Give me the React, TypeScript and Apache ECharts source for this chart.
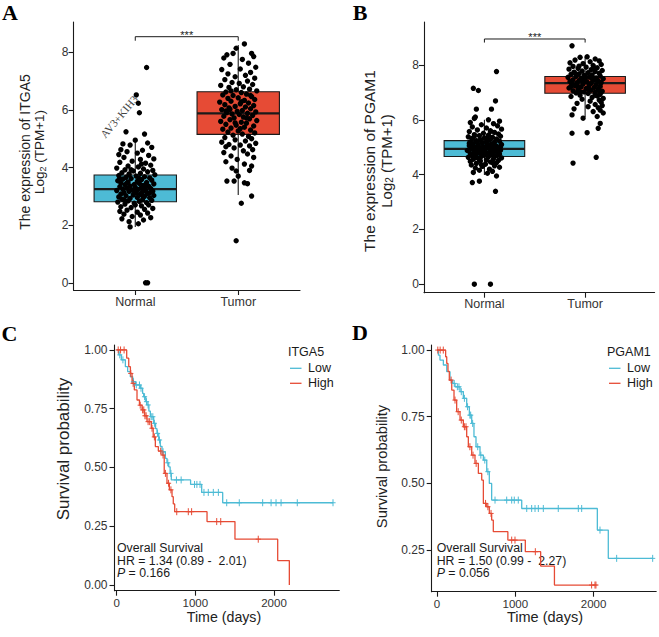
import React, { useEffect, useRef } from "react";
import * as echarts from "echarts";

// ---------- data ----------
const groups = ["Normal", "Tumor"];

// [jitter offset, log2(TPM+1)]
const itga5Normal = [
  [0.11, 7.47], [0.01, 6.52], [0.03, 6.23], [0.04, 5.9], [-0.09, 5.24], [0.09, 5.16], [0.0, 4.95], [-0.12, 4.82],
  [-0.05, 4.78], [0.12, 4.85], [0.16, 4.7], [-0.14, 4.62], [0.07, 4.6], [-0.08, 4.55], [0.02, 4.5], [-0.16, 4.45],
  [0.13, 4.42], [0.18, 4.3], [-0.11, 4.35], [0.05, 4.28], [-0.03, 4.22], [-0.15, 4.18], [0.1, 4.15], [0.15, 4.08],
  [-0.07, 4.05], [0.03, 4.02], [-0.18, 3.98], [0.08, 3.95], [-0.1, 3.92], [0.17, 3.9], [-0.02, 3.88], [0.12, 3.85],
  [-0.13, 3.82], [0.05, 3.8], [-0.06, 3.78], [0.19, 3.75], [-0.16, 3.72], [0.01, 3.7], [0.09, 3.68], [-0.09, 3.66],
  [0.14, 3.64], [-0.04, 3.62], [-0.12, 3.6], [0.06, 3.58], [0.16, 3.56], [-0.17, 3.54], [0.02, 3.52], [-0.07, 3.5],
  [0.11, 3.48], [-0.14, 3.46], [0.04, 3.45], [0.18, 3.43], [-0.01, 3.41], [-0.1, 3.4], [0.08, 3.38], [-0.05, 3.36],
  [0.13, 3.35], [-0.15, 3.33], [0.0, 3.31], [0.06, 3.3], [-0.08, 3.28], [0.15, 3.27], [-0.12, 3.25], [0.03, 3.24],
  [-0.03, 3.22], [0.1, 3.21], [-0.18, 3.2], [0.17, 3.18], [-0.06, 3.17], [0.07, 3.15], [-0.11, 3.13], [0.01, 3.12],
  [0.12, 3.1], [-0.14, 3.08], [0.05, 3.07], [-0.02, 3.05], [0.18, 3.03], [-0.09, 3.02], [0.09, 3.0], [-0.16, 2.98],
  [0.02, 2.96], [0.14, 2.95], [-0.05, 2.93], [-0.13, 2.9], [0.07, 2.88], [0.16, 2.86], [-0.07, 2.84], [0.04, 2.82],
  [-0.17, 2.8], [0.11, 2.78], [-0.01, 2.76], [-0.1, 2.73], [0.13, 2.7], [0.06, 2.67], [-0.14, 2.64], [-0.04, 2.61],
  [0.17, 2.58], [0.09, 2.55], [-0.08, 2.52], [-0.15, 2.48], [0.02, 2.45], [0.12, 2.42], [-0.11, 2.38], [0.05, 2.35],
  [-0.03, 2.3], [0.15, 2.26], [-0.13, 2.22], [0.08, 2.18], [-0.06, 2.12], [0.03, 2.05], [-0.05, 1.94], [0.1, 0.0],
  [0.12, 0.0], [-0.04, 3.92], [0.04, 3.62], [-0.08, 3.46], [0.1, 3.36], [-0.01, 3.18], [0.07, 3.02], [-0.11, 2.88],
  [0.0, 2.7], [-0.06, 3.74], [0.14, 3.12], [-0.15, 3.62], [0.06, 4.12],
];

const itga5Tumor = [
  [0.06, 8.29], [-0.02, 8.14], [-0.11, 7.91], [-0.05, 7.96], [0.13, 7.96], [0.15, 7.85], [-0.14, 7.8], [0.04, 7.75],
  [0.1, 7.62], [-0.08, 7.58], [0.17, 7.48], [-0.16, 7.4], [0.02, 7.42], [0.12, 7.3], [-0.1, 7.25], [0.07, 7.2],
  [-0.03, 7.15], [0.16, 7.1], [-0.13, 7.05], [0.09, 7.0], [-0.06, 6.95], [0.01, 6.92], [0.14, 6.88], [-0.17, 6.85],
  [0.05, 6.8], [-0.09, 6.78], [0.11, 6.72], [-0.02, 6.7], [0.18, 6.66], [-0.12, 6.62], [0.03, 6.6], [0.08, 6.55],
  [-0.15, 6.52], [-0.05, 6.5], [0.13, 6.46], [0.0, 6.42], [-0.1, 6.4], [0.16, 6.36], [0.06, 6.33], [-0.07, 6.3],
  [-0.18, 6.27], [0.1, 6.24], [0.02, 6.21], [-0.13, 6.18], [0.15, 6.15], [-0.03, 6.12], [0.07, 6.1], [-0.09, 6.07],
  [0.12, 6.04], [-0.16, 6.01], [0.04, 5.98], [-0.01, 5.95], [0.17, 5.93], [-0.11, 5.9], [0.09, 5.88], [-0.06, 5.86],
  [0.01, 5.84], [0.14, 5.81], [-0.14, 5.78], [0.05, 5.75], [-0.04, 5.72], [0.11, 5.69], [-0.08, 5.66], [0.18, 5.63],
  [-0.17, 5.6], [0.03, 5.57], [0.08, 5.54], [-0.12, 5.5], [-0.02, 5.47], [0.15, 5.44], [0.06, 5.4], [-0.07, 5.37],
  [-0.15, 5.33], [0.12, 5.3], [0.0, 5.27], [-0.1, 5.23], [0.16, 5.2], [0.04, 5.16], [-0.05, 5.12], [0.1, 5.08],
  [-0.13, 5.04], [0.13, 5.0], [-0.03, 4.96], [0.07, 4.92], [-0.16, 4.88], [0.17, 4.84], [-0.09, 4.8], [0.02, 4.78],
  [0.11, 4.75], [-0.12, 4.72], [-0.04, 4.68], [0.14, 4.62], [0.05, 4.58], [-0.14, 4.52], [0.09, 4.47], [-0.07, 4.4],
  [0.15, 4.35], [-0.01, 4.28], [-0.12, 4.2], [0.06, 4.12], [0.13, 4.05], [-0.06, 3.98], [0.11, 3.9], [-0.02, 3.88],
  [0.0, 3.7], [-0.11, 3.53], [-0.04, 3.53], [0.06, 3.47], [0.09, 3.44], [0.13, 3.01], [0.03, 2.76], [-0.02, 1.46],
  [-0.08, 6.02], [0.03, 6.28], [-0.12, 5.96], [0.08, 5.72], [-0.03, 5.55], [0.12, 6.5], [-0.07, 6.66], [0.02, 5.35],
];

const pgam1Normal = [
  [0.12, 7.76], [-0.11, 7.15], [-0.06, 7.07], [0.11, 6.69], [-0.08, 6.39], [0.07, 6.39], [-0.09, 6.1], [-0.1, 6.05],
  [0.04, 6.0], [0.15, 5.95], [-0.14, 5.9], [0.09, 5.86], [-0.03, 5.82], [0.13, 5.78], [-0.12, 5.74], [0.02, 5.7],
  [0.17, 5.66], [-0.07, 5.63], [0.06, 5.6], [-0.15, 5.57], [0.1, 5.54], [-0.01, 5.51], [0.14, 5.48], [-0.1, 5.46],
  [0.04, 5.44], [-0.05, 5.42], [0.16, 5.4], [-0.16, 5.38], [0.08, 5.36], [0.0, 5.34], [-0.12, 5.32], [0.12, 5.3],
  [-0.04, 5.28], [0.05, 5.26], [-0.08, 5.24], [0.15, 5.22], [-0.14, 5.2], [0.02, 5.19], [0.1, 5.17], [-0.02, 5.15],
  [-0.11, 5.13], [0.07, 5.12], [0.17, 5.1], [-0.06, 5.08], [0.03, 5.07], [-0.15, 5.05], [0.12, 5.04], [-0.01, 5.02],
  [0.08, 5.01], [-0.09, 4.99], [0.14, 4.98], [-0.04, 4.97], [0.05, 4.95], [-0.13, 4.94], [0.01, 4.93], [0.11, 4.92],
  [-0.07, 4.9], [0.16, 4.89], [-0.17, 4.88], [0.06, 4.86], [-0.02, 4.85], [0.09, 4.84], [-0.1, 4.82], [0.13, 4.81],
  [-0.05, 4.8], [0.03, 4.78], [-0.14, 4.77], [0.15, 4.75], [-0.08, 4.74], [0.07, 4.72], [0.0, 4.71], [-0.12, 4.69],
  [0.11, 4.68], [-0.03, 4.66], [0.04, 4.65], [-0.16, 4.63], [0.17, 4.61], [-0.06, 4.6], [0.09, 4.58], [-0.11, 4.56],
  [0.02, 4.54], [0.14, 4.52], [-0.04, 4.5], [-0.14, 4.48], [0.06, 4.46], [0.12, 4.43], [-0.08, 4.41], [0.01, 4.38],
  [-0.13, 4.35], [0.1, 4.32], [-0.02, 4.3], [0.15, 4.27], [-0.09, 4.24], [0.05, 4.2], [-0.05, 4.16], [0.08, 4.12],
  [-0.11, 4.08], [0.03, 4.05], [0.12, 3.95], [-0.12, 3.71], [-0.05, 3.76], [0.11, 3.39], [-0.1, 0.0], [0.06, 0.0],
  [-0.07, 5.18], [0.05, 5.05], [-0.12, 4.98], [0.1, 4.9], [-0.02, 4.76], [0.13, 4.7], [-0.09, 4.62], [0.03, 5.32],
  [-0.15, 5.14], [0.16, 5.02], [0.0, 4.88], [-0.05, 4.55], [0.08, 4.44], [-0.1, 5.4], [0.06, 5.58], [-0.03, 4.36],
];

const pgam1Tumor = [
  [-0.13, 8.7], [0.02, 8.3], [-0.05, 8.28], [0.1, 8.22], [-0.1, 8.18], [0.14, 8.15], [0.05, 8.12], [-0.15, 8.08],
  [-0.02, 8.05], [0.16, 8.02], [0.08, 7.98], [-0.12, 7.95], [0.01, 7.92], [0.12, 7.9], [-0.07, 7.88], [-0.16, 7.85],
  [0.06, 7.83], [0.17, 7.8], [-0.03, 7.78], [0.1, 7.76], [-0.11, 7.74], [0.03, 7.72], [0.14, 7.7], [-0.06, 7.68],
  [-0.14, 7.66], [0.07, 7.64], [-0.01, 7.62], [0.15, 7.6], [-0.09, 7.58], [0.04, 7.56], [-0.17, 7.55], [0.11, 7.53],
  [-0.04, 7.51], [0.18, 7.5], [0.0, 7.48], [-0.12, 7.46], [0.08, 7.45], [-0.06, 7.43], [0.13, 7.41], [-0.15, 7.4],
  [0.02, 7.38], [0.16, 7.36], [-0.08, 7.35], [0.06, 7.33], [-0.02, 7.31], [-0.13, 7.3], [0.11, 7.28], [0.04, 7.26],
  [-0.1, 7.24], [0.15, 7.22], [-0.04, 7.2], [0.09, 7.18], [-0.16, 7.16], [0.01, 7.14], [0.13, 7.12], [-0.07, 7.1],
  [0.06, 7.08], [-0.12, 7.06], [0.17, 7.04], [-0.01, 7.02], [0.1, 7.0], [-0.09, 6.98], [0.03, 6.96], [0.15, 6.93],
  [-0.05, 6.9], [0.12, 6.87], [-0.14, 6.85], [0.07, 6.82], [0.18, 6.78], [-0.03, 6.75], [0.14, 6.72], [0.05, 6.68],
  [0.16, 6.64], [-0.08, 6.6], [0.1, 6.56], [0.17, 6.52], [0.03, 6.48], [0.13, 6.44], [-0.11, 6.4], [0.15, 6.35],
  [0.08, 6.3], [0.18, 6.25], [-0.13, 6.18], [0.12, 6.12], [-0.02, 6.06], [0.15, 5.87], [0.13, 5.69], [0.02, 5.53],
  [-0.13, 5.51], [0.11, 4.63], [-0.12, 4.42], [-0.06, 7.96], [0.09, 7.86], [-0.1, 7.7], [0.0, 7.6], [0.12, 7.44],
  [-0.08, 7.26], [0.04, 7.12], [-0.14, 7.22], [0.07, 7.5], [-0.02, 7.4], [0.14, 7.06], [-0.05, 7.02], [0.1, 6.9],
];

// [lower whisker, Q1, median, Q3, upper whisker]
const itga5Box = [
  [1.94, 2.81, 3.25, 3.74, 4.95],
  [3.05, 5.15, 5.88, 6.63, 8.25],
];
const pgam1Box = [
  [3.99, 4.66, 4.94, 5.24, 6.0],
  [6.1, 6.97, 7.34, 7.58, 8.3],
];

// significance bracket: [from group, to group, height, tip]
const itga5Sig = [[1, 2, 8.54, 8.4]];
const pgam1Sig = [[1, 2, 8.95, 8.82]];

const exprTicks = [0, 2, 4, 6, 8];
const survTicksC = [0, 0.25, 0.5, 0.75, 1];
const survTicksD = [0.25, 0.5, 0.75, 1];
const timeTicks = [0, 1000, 2000];

// Kaplan-Meier steps: [time (days), survival after event]
const itga5LowSteps = [
  [0, 1], [27, 0.979], [60, 0.958], [111, 0.929], [140, 0.908], [174, 0.886], [205, 0.865], [238, 0.851],
  [301, 0.837], [330, 0.815], [344, 0.801], [370, 0.78], [386, 0.766], [410, 0.74], [429, 0.716], [471, 0.688],
  [495, 0.665], [513, 0.645], [535, 0.617], [555, 0.59], [577, 0.567], [619, 0.539], [640, 0.52], [662, 0.503],
  [680, 0.475], [695, 0.447], [940, 0.428], [1081, 0.394], [1348, 0.35],
];
const itga5LowCensor = [
  40, 80, 215, 250, 290, 310, 355, 380, 400, 440, 460, 480, 520, 545, 590, 650, 690, 760, 820, 990, 1020, 1060,
  1110, 1165, 1229, 1293, 1399, 1559, 1856, 1963, 2026, 2090, 2296, 2750,
];
const itga5HighSteps = [
  [0, 1], [128, 0.965], [154, 0.929], [175, 0.9], [196, 0.858], [225, 0.83], [259, 0.787], [290, 0.765],
  [323, 0.745], [355, 0.72], [386, 0.695], [441, 0.667], [465, 0.63], [492, 0.589], [530, 0.57], [577, 0.553],
  [605, 0.475], [640, 0.433], [670, 0.405], [704, 0.376], [720, 0.345], [738, 0.312], [1149, 0.27], [1504, 0.195],
  [2047, 0.104], [2195, 0],
];
const itga5HighCensor = [
  20, 50, 95, 180, 210, 300, 330, 345, 360, 375, 400, 420, 450, 480, 560, 590, 620, 660, 690, 764, 911, 953, 1272,
  1323, 1800,
];

const pgam1LowSteps = [
  [0, 1], [17, 0.981], [38, 0.9625], [81, 0.944], [124, 0.919], [166, 0.8875], [200, 0.875], [230, 0.8625],
  [294, 0.844], [336, 0.819], [379, 0.7875], [413, 0.756], [443, 0.725], [472, 0.675], [498, 0.6375], [549, 0.606],
  [592, 0.5875], [635, 0.544], [668, 0.5], [698, 0.4375], [1082, 0.406], [2048, 0.325], [2188, 0.219],
];
const pgam1LowCensor = [
  220, 260, 280, 310, 350, 390, 420, 430, 455, 520, 560, 610, 650, 741, 890, 954, 987, 1038, 1146, 1209, 1252,
  1294, 1358, 1549, 1805, 1848, 2082, 2295, 2755,
];
const pgam1HighSteps = [
  [0, 1], [110, 0.975], [124, 0.95], [140, 0.92], [157, 0.8875], [188, 0.85], [217, 0.8125], [251, 0.769],
  [294, 0.7375], [336, 0.7125], [379, 0.675], [400, 0.6375], [443, 0.606], [485, 0.575], [528, 0.5375],
  [571, 0.5125], [592, 0.425], [635, 0.4125], [668, 0.3875], [698, 0.3625], [719, 0.319], [905, 0.2875],
  [1128, 0.244], [1324, 0.19], [1500, 0.119],
];
const pgam1HighCensor = [
  10, 40, 80, 180, 230, 270, 310, 350, 370, 420, 460, 500, 620, 650, 690, 954, 996, 1256, 1975, 2018, 2030,
];

// ---------- styling ----------
const SANS = "'Liberation Sans', Arial, Helvetica, sans-serif";
const SERIF = "'Liberation Serif', 'Times New Roman', serif";
const RED = "#E64B35";
const BLUE = "#4DBBD5";
const INK = "#1a1a1a";
const LABEL = "#333333";
const axisLine = { show: true, onZero: false, lineStyle: { color: INK, width: 1.1 } };

// ---------- helpers ----------
function survAt(steps: number[][], t: number) {
  let s = steps[0][1];
  for (const [tt, ss] of steps) {
    if (tt <= t) s = ss;
    else break;
  }
  return s;
}

function kmLine(steps: number[][], censor: number[]) {
  const last = steps[steps.length - 1];
  const end = Math.max(last[0], ...censor);
  return end > last[0] ? [...steps, [end, last[1]]] : steps;
}

function kmCensor(steps: number[][], censor: number[]) {
  return censor.map((t) => [t, survAt(steps, t)]);
}

function jitter(points: number[][], group: number) {
  return points.map(([j, v]) => [group + j, v]);
}

function boxRender(_params: any, api: any) {
  const g = api.value(0);
  const [lo, q1, med, q3, hi] = [1, 2, 3, 4, 5].map((i) => api.value(i));
  const hw = 0.4;
  const tl = api.coord([g - hw, q3]);
  const br = api.coord([g + hw, q1]);
  const mL = api.coord([g - hw, med]);
  const mR = api.coord([g + hw, med]);
  const top = api.coord([g, hi]);
  const bot = api.coord([g, lo]);
  const st = { stroke: INK, lineWidth: 1.1 };
  return {
    type: "group",
    children: [
      { type: "line", shape: { x1: top[0], y1: top[1], x2: top[0], y2: bot[1] }, style: st },
      {
        type: "rect",
        shape: { x: tl[0], y: tl[1], width: br[0] - tl[0], height: br[1] - tl[1] },
        style: { fill: g === 1 ? BLUE : RED, stroke: INK, lineWidth: 1.1 },
      },
      { type: "line", shape: { x1: mL[0], y1: mL[1], x2: mR[0], y2: mR[1] }, style: { stroke: INK, lineWidth: 2.2 } },
    ],
  };
}

function sigRender(_params: any, api: any) {
  const a = api.coord([api.value(0), api.value(3)]);
  const b = api.coord([api.value(0), api.value(2)]);
  const c = api.coord([api.value(1), api.value(2)]);
  const d = api.coord([api.value(1), api.value(3)]);
  return {
    type: "group",
    children: [
      { type: "polyline", shape: { points: [a, b, c, d] }, style: { stroke: INK, fill: "none", lineWidth: 1 } },
      {
        type: "text",
        x: (b[0] + c[0]) / 2,
        y: b[1] + 4,
        style: { text: "***", fontSize: 11, fontFamily: SANS, fill: INK, align: "center", verticalAlign: "bottom" },
      },
    ],
  };
}

function censorRender(color: string) {
  return (_params: any, api: any) => {
    const p = api.coord([api.value(0), api.value(1)]);
    const st = { stroke: color, lineWidth: 1 };
    return {
      type: "group",
      children: [
        { type: "line", shape: { x1: p[0], y1: p[1] - 3.5, x2: p[0], y2: p[1] + 3.5 }, style: st },
        { type: "line", shape: { x1: p[0] - 2.6, y1: p[1], x2: p[0] + 2.6, y2: p[1] }, style: st },
      ],
    };
  };
}

function exprAxes(grid: number, xmax: number, ymin: number, ymax: number) {
  return {
    x: {
      gridIndex: grid,
      type: "value",
      min: 0.4,
      max: xmax,
      axisLine,
      axisTick: { show: true, length: 5, customValues: [1, 2], lineStyle: { color: INK, width: 1.1 } },
      axisLabel: {
        customValues: [1, 2],
        formatter: (v: number) => groups[Math.round(v) - 1] ?? "",
        color: LABEL,
        fontSize: 12.5,
        fontFamily: SANS,
        margin: 5,
      },
      splitLine: { show: false },
    },
    y: {
      gridIndex: grid,
      type: "value",
      min: ymin,
      max: ymax,
      axisLine,
      axisTick: { show: true, length: 5, customValues: exprTicks, lineStyle: { color: INK, width: 1.1 } },
      axisLabel: { customValues: exprTicks, color: LABEL, fontSize: 12, fontFamily: SANS, margin: 5 },
      splitLine: { show: false },
    },
  };
}

function survAxes(grid: number, xmin: number, xmax: number, ymin: number, ymax: number, yticks: number[]) {
  return {
    x: {
      gridIndex: grid,
      type: "value",
      min: xmin,
      max: xmax,
      axisLine,
      axisTick: { show: true, length: 5, customValues: timeTicks, lineStyle: { color: INK, width: 1.1 } },
      axisLabel: {
        customValues: timeTicks,
        formatter: (v: number) => String(Math.round(v)),
        color: LABEL,
        fontSize: 11.5,
        fontFamily: SANS,
        margin: 6,
      },
      splitLine: { show: false },
    },
    y: {
      gridIndex: grid,
      type: "value",
      min: ymin,
      max: ymax,
      axisLine,
      axisTick: { show: true, length: 5, customValues: yticks, lineStyle: { color: INK, width: 1.1 } },
      axisLabel: {
        customValues: yticks,
        formatter: (v: number) => v.toFixed(2),
        color: LABEL,
        fontSize: 12,
        fontFamily: SANS,
        margin: 7,
      },
      splitLine: { show: false },
    },
  };
}

function text(x: number, y: number, str: string, size: number, extra: any = {}) {
  return {
    type: "text",
    x,
    y,
    rotation: extra.rotation ?? 0,
    style: {
      text: str,
      fontSize: size,
      fontFamily: extra.fontFamily ?? SANS,
      fontWeight: extra.fontWeight ?? "normal",
      fill: extra.fill ?? INK,
      align: extra.align ?? "left",
      verticalAlign: "middle",
      lineHeight: extra.lineHeight,
      rich: extra.rich,
    },
  };
}

function exprTitle(x: number, y: number, gene: string, size: number) {
  return text(x, y, `The expression of ${gene}\n{a|Log}{s|2}{a| (TPM+1)}`, size, {
    rotation: Math.PI / 2,
    align: "center",
    lineHeight: size + 1,
    fill: "#222",
    rich: {
      a: { fontSize: size - 0.5, fontFamily: SANS, fill: "#222", lineHeight: size + 1 },
      s: { fontSize: size * 0.65, fontFamily: SANS, fill: "#222", verticalAlign: "bottom", lineHeight: size + 1 },
    },
  });
}

function legend(x: number, gene: string) {
  const lineX = x + 2;
  return [
    text(x, 351.7, gene, 12.5),
    { type: "line", shape: { x1: lineX, y1: 368.3, x2: lineX + 11.5, y2: 368.3 }, style: { stroke: BLUE, lineWidth: 1.3 } },
    { type: "line", shape: { x1: lineX, y1: 383.3, x2: lineX + 11.5, y2: 383.3 }, style: { stroke: RED, lineWidth: 1.3 } },
    text(x + 20, 368.3, "Low", 12.5),
    text(x + 20, 383.3, "High", 12.5),
  ];
}

// three-line survival summary written as one block
function survNote(x: number, hr: string, p: string) {
  const r = { fontSize: 12.3, fontFamily: SANS, fill: INK, lineHeight: 12.5 };
  return text(x, 560.8, `{r|Overall Survival}\n{r|${hr}}\n{i|P}{r| = ${p}}`, 12.3, {
    lineHeight: 12.5,
    rich: { r, i: { ...r, fontStyle: "italic" } },
  });
}

const App: React.FC = () => {
  const ref = useRef<HTMLDivElement>(null);

  useEffect(() => {
    if (!ref.current) return;
    const chart = echarts.init(ref.current, undefined, { renderer: "svg" });

    const aAx = exprAxes(0, 2.6, -0.25, 9.05);
    const bAx = exprAxes(1, 2.69, -0.31, 9.57);
    const cAx = survAxes(2, -27, 2830, -0.024, 1.021, survTicksC);
    const dAx = survAxes(3, -68, 2800, 0.094, 1.019, survTicksD);

    const boxes = (data: number[][], ax: number) => ({
      type: "custom",
      xAxisIndex: ax,
      yAxisIndex: ax,
      renderItem: boxRender,
      data: data.map((b, i) => [i + 1, ...b]),
      z: 2,
    });
    const dots = (pts: number[][], g: number, ax: number) => ({
      type: "scatter",
      xAxisIndex: ax,
      yAxisIndex: ax,
      data: jitter(pts, g),
      symbolSize: 5.4,
      itemStyle: { color: "#000", opacity: 1 },
      z: 3,
    });
    const sig = (data: number[][], ax: number) => ({
      type: "custom",
      xAxisIndex: ax,
      yAxisIndex: ax,
      renderItem: sigRender,
      data,
      z: 4,
    });
    const km = (steps: number[][], censor: number[], color: string, ax: number) => [
      {
        type: "line",
        xAxisIndex: ax,
        yAxisIndex: ax,
        step: "end",
        showSymbol: false,
        data: kmLine(steps, censor),
        lineStyle: { color, width: 1.3 },
        z: 2,
      },
      {
        type: "custom",
        xAxisIndex: ax,
        yAxisIndex: ax,
        renderItem: censorRender(color),
        data: kmCensor(steps, censor),
        z: 3,
      },
    ];

    chart.setOption({
      animation: false,
      backgroundColor: "#ffffff",
      grid: [
        { left: 73.5, top: 22, width: 226.5, height: 268, outerBoundsMode: "none" },
        { left: 424, top: 22, width: 230.6, height: 270.7, outerBoundsMode: "none" },
        { left: 114.5, top: 345, width: 224.8, height: 245.7, outerBoundsMode: "none" },
        { left: 431.7, top: 345, width: 224.5, height: 246.7, outerBoundsMode: "none" },
      ],
      xAxis: [aAx.x, bAx.x, cAx.x, dAx.x],
      yAxis: [aAx.y, bAx.y, cAx.y, dAx.y],
      series: [
        boxes(itga5Box, 0),
        dots(itga5Normal, 1, 0),
        dots(itga5Tumor, 2, 0),
        sig(itga5Sig, 0),
        boxes(pgam1Box, 1),
        dots(pgam1Normal, 1, 1),
        dots(pgam1Tumor, 2, 1),
        sig(pgam1Sig, 1),
        ...km(itga5LowSteps, itga5LowCensor, BLUE, 2),
        ...km(itga5HighSteps, itga5HighCensor, RED, 2),
        ...km(pgam1LowSteps, pgam1LowCensor, BLUE, 3),
        ...km(pgam1HighSteps, pgam1HighCensor, RED, 3),
      ],
      graphic: [
        text(10, 12.5, "A", 22, { fontFamily: SERIF, fontWeight: "bold", align: "center", fill: "#000" }),
        text(360, 12.5, "B", 22, { fontFamily: SERIF, fontWeight: "bold", align: "center", fill: "#000" }),
        text(9.5, 333, "C", 22, { fontFamily: SERIF, fontWeight: "bold", align: "center", fill: "#000" }),
        text(360, 332.5, "D", 22, { fontFamily: SERIF, fontWeight: "bold", align: "center", fill: "#000" }),
        exprTitle(32, 152, "ITGA5", 14),
        exprTitle(378, 161, "PGAM1", 15.5),
        text(119, 116.5, "AV3+KIH3", 11, { fontFamily: SERIF, rotation: (50 * Math.PI) / 180, align: "center", fill: "#444" }),
        text(63.3, 449, "Survival probability", 17, { rotation: Math.PI / 2, align: "center", fill: "#222" }),
        text(381.7, 466.5, "Survival probability", 14.7, { rotation: Math.PI / 2, align: "center", fill: "#222" }),
        text(224, 616.7, "Time (days)", 14.2, { align: "center", fill: "#222" }),
        text(545, 616.7, "Time (days)", 14.5, { align: "center", fill: "#222" }),
        ...legend(288, "ITGA5"),
        ...legend(607, "PGAM1"),
        survNote(117, "HR = 1.34 (0.89 -  2.01)", "0.166"),
        survNote(436.7, "HR = 1.50 (0.99 -  2.27)", "0.056"),
      ],
    });

    return () => chart.dispose();
  }, []);

  return <div ref={ref} style={{ position: "fixed", left: 0, top: 0, width: 659, height: 637, background: "#fff" }} />;
};

export default App;
